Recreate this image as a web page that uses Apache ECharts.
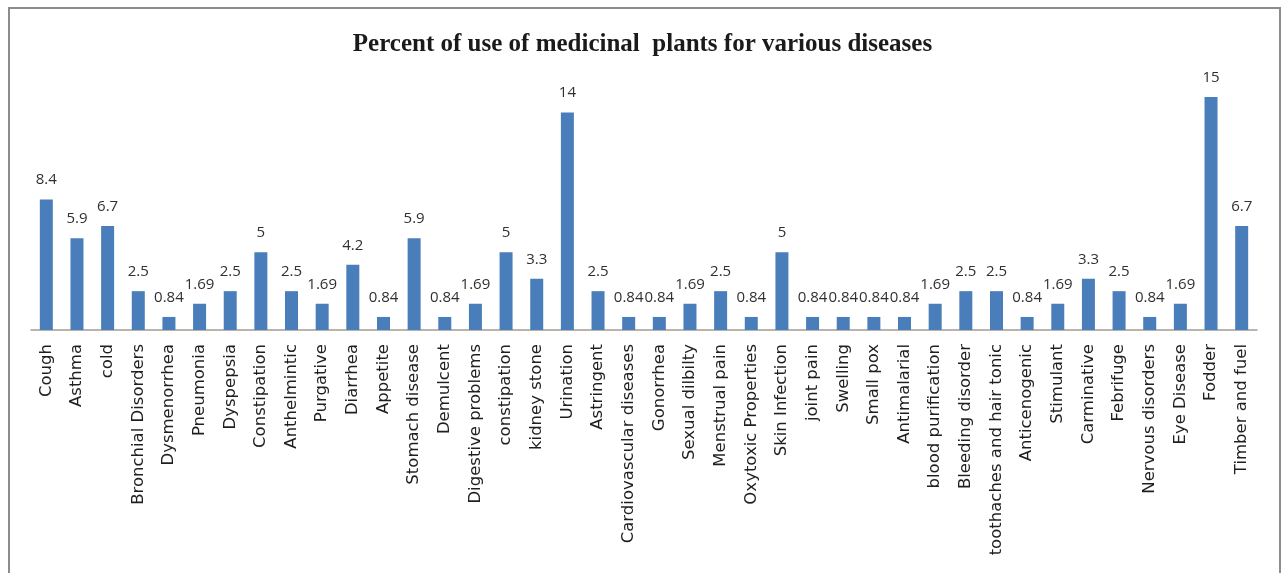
<!DOCTYPE html>
<html>
<head>
<meta charset="utf-8">
<style>
  html, body { margin: 0; padding: 0; background: #ffffff; }
  #chart { width: 1285px; height: 573px; }
</style>
<script src="https://cdn.jsdelivr.net/npm/echarts@6/dist/echarts.min.js"></script>
</head>
<body>
<div id="chart"></div>
<script>
// Uses (categories) and their share in percent
const categories = [
  'Cough', 'Asthma', 'cold', 'Bronchial Disorders', 'Dysmenorrhea', 'Pneumonia',
  'Dyspepsia', 'Constipation', 'Anthelmintic', 'Purgative', 'Diarrhea', 'Appetite',
  'Stomach disease', 'Demulcent', 'Digestive problems', 'constipation', 'kidney stone',
  'Urination', 'Astringent', 'Cardiovascular diseases', 'Gonorrhea', 'Sexual dilbilty',
  'Menstrual pain', 'Oxytoxic Properties', 'Skin Infection', 'joint pain', 'Swelling',
  'Small pox', 'Antimalarial', 'blood purification', 'Bleeding disorder',
  'toothaches and hair tonic', 'Anticenogenic', 'Stimulant', 'Carminative', 'Febrifuge',
  'Nervous disorders', 'Eye Disease', 'Fodder', 'Timber and fuel'
];
const percentValues = [
  8.4, 5.9, 6.7, 2.5, 0.84, 1.69,
  2.5, 5, 2.5, 1.69, 4.2, 0.84,
  5.9, 0.84, 1.69, 5, 3.3,
  14, 2.5, 0.84, 0.84, 1.69,
  2.5, 0.84, 5, 0.84, 0.84,
  0.84, 0.84, 1.69, 2.5,
  2.5, 0.84, 1.69, 3.3, 2.5,
  0.84, 1.69, 15, 6.7
];
const chartTitle = 'Percent of use of medicinal  plants for various diseases';

const chart = echarts.init(document.getElementById('chart'), null, { renderer: 'canvas' });

chart.setOption({
  animation: false,
  backgroundColor: '#ffffff',
  title: {
    text: chartTitle,
    left: 'center',
    top: 27,
    textStyle: {
      fontFamily: '"Liberation Serif", "DejaVu Serif", serif',
      fontWeight: 'bold',
      fontSize: 25,
      color: '#1a1a1a'
    }
  },
  graphic: [{
    type: 'rect',
    shape: { x: 9, y: 8, width: 1271, height: 600 },
    style: { fill: 'none', stroke: '#8c8c8c', lineWidth: 2 },
    silent: true
  }],
  grid: { left: 31, right: 28, top: 97, bottom: 243, containLabel: false },
  xAxis: {
    type: 'category',
    data: categories,
    axisLine: { show: true, lineStyle: { color: '#a39c94', width: 1.5 } },
    axisTick: { show: false },
    axisLabel: {
      interval: 0,
      rotate: 90,
      margin: 14,
      fontFamily: '"DejaVu Sans", "Open Sans", sans-serif',
      fontSize: 16.5,
      color: '#1f1f1f'
    }
  },
  yAxis: {
    type: 'value',
    min: 0,
    max: 15,
    show: false,
    splitLine: { show: false }
  },
  series: [{
    type: 'bar',
    data: percentValues,
    barWidth: 13,
    itemStyle: { color: '#4a7ebb' },
    label: {
      show: true,
      position: 'top',
      distance: 12,
      fontFamily: '"Open Sans", "Liberation Sans", sans-serif',
      fontSize: 15,
      color: '#303030'
    }
  }]
});
</script>
</body>
</html>
